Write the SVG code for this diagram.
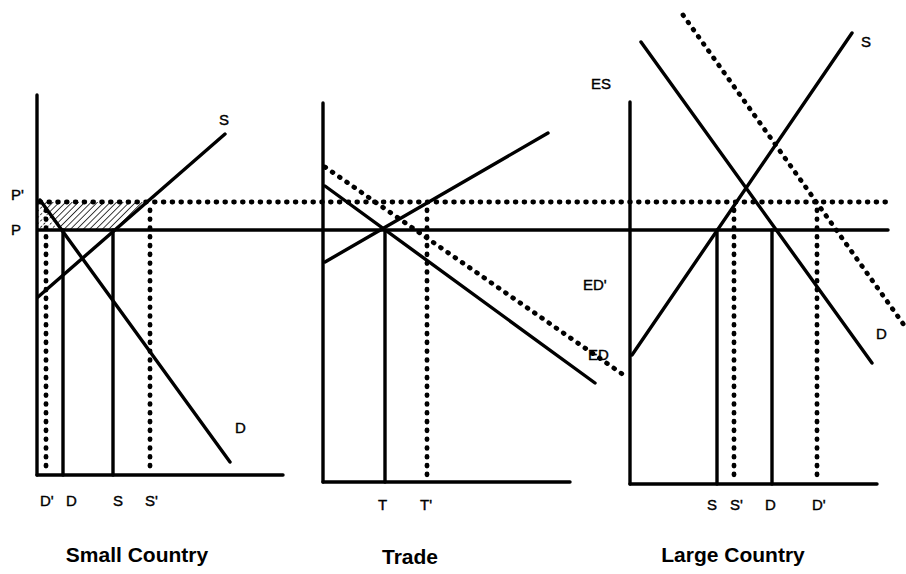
<svg xmlns="http://www.w3.org/2000/svg" width="906" height="574" viewBox="0 0 906 574">
<style>
.s{stroke:#000;stroke-width:3.4;fill:none;stroke-linecap:round}
.d{stroke:#000;stroke-width:4.8;fill:none;stroke-linecap:round;stroke-dasharray:0.8 8}
.t{font-family:"Liberation Sans",Arial,sans-serif;font-size:15px;fill:#000;stroke:#000;stroke-width:0.4}
.h{font-family:"Liberation Sans",Arial,sans-serif;font-size:21px;font-weight:bold;fill:#000}
</style>
<defs>
<pattern id="hatch" patternUnits="userSpaceOnUse" width="4.5" height="4.5" patternTransform="rotate(45)">
<line x1="0" y1="0" x2="0" y2="4.5" stroke="#000" stroke-width="1.5"/>
</pattern>
<pattern id="hatch2" patternUnits="userSpaceOnUse" width="4.5" height="4.5" patternTransform="rotate(45)">
<line x1="0" y1="0" x2="0" y2="4.5" stroke="#000" stroke-width="1.5" stroke-dasharray="2 2"/>
</pattern>
</defs>
<rect width="906" height="574" fill="#fff"/>
<g id="shading">
<polygon points="42,202 147,202 115,230 62,230" fill="url(#hatch)"/>
<polygon points="38,202 42,202 62,230 38,230" fill="url(#hatch2)"/>
</g>
<g id="connectors">
<line class="d" x1="40" y1="202" x2="890" y2="202"/>
<line class="s" x1="38" y1="230" x2="888" y2="230"/>
<line class="s" x1="37" y1="95" x2="37" y2="475"/>
<line class="s" x1="37" y1="475" x2="283" y2="475"/>
<line class="s" x1="38" y1="297" x2="225" y2="134"/>
<line class="s" x1="40" y1="200" x2="230" y2="462"/>
<line class="s" x1="63" y1="230" x2="63" y2="475"/>
<line class="s" x1="113" y1="230" x2="113" y2="475"/>
<line class="d" x1="46" y1="210" x2="46" y2="470"/>
<line class="d" x1="150" y1="210" x2="150" y2="470"/>
<line class="s" x1="323" y1="103" x2="323" y2="482"/>
<line class="s" x1="323" y1="482" x2="570" y2="482"/>
<line class="s" x1="325" y1="262" x2="548" y2="133"/>
<line class="s" x1="325" y1="186" x2="595" y2="383"/>
<line class="d" x1="325" y1="167" x2="628" y2="378"/>
<line class="s" x1="385" y1="230" x2="385" y2="482"/>
<line class="d" x1="427" y1="210" x2="427" y2="478"/>
<line class="s" x1="630" y1="102" x2="630" y2="484"/>
<line class="s" x1="630" y1="484" x2="877" y2="484"/>
<line class="s" x1="632" y1="355" x2="852" y2="33"/>
<line class="s" x1="641" y1="42" x2="872" y2="363"/>
<line class="d" x1="683" y1="15" x2="904" y2="325"/>
<line class="s" x1="717" y1="230" x2="717" y2="484"/>
<line class="s" x1="772" y1="230" x2="772" y2="484"/>
<line class="d" x1="734" y1="210" x2="734" y2="480"/>
<line class="d" x1="817" y1="210" x2="817" y2="480"/>
</g>
<g id="labels-small">
<text class="t" x="11" y="200">P'</text>
<text class="t" x="11" y="235">P</text>
<text class="t" x="219" y="125">S</text>
<text class="t" x="235" y="433">D</text>
<text class="t" x="40" y="506">D'</text>
<text class="t" x="66" y="506">D</text>
<text class="t" x="113" y="506">S</text>
<text class="t" x="145" y="506">S'</text>
<text class="h" x="137" y="562" text-anchor="middle">Small Country</text>
</g>
<g id="labels-trade">
<text class="t" x="378" y="510">T</text>
<text class="t" x="420" y="510">T'</text>
<text class="h" x="410" y="564" text-anchor="middle">Trade</text>
</g>
<g id="labels-large">
<text class="t" x="591" y="89">ES</text>
<text class="t" x="583" y="290">ED'</text>
<text class="t" x="588" y="360">ED</text>
<text class="t" x="861" y="47">S</text>
<text class="t" x="876" y="339">D</text>
<text class="t" x="707" y="510">S</text>
<text class="t" x="730" y="510">S'</text>
<text class="t" x="765" y="510">D</text>
<text class="t" x="812" y="510">D'</text>
<text class="h" x="733" y="562" text-anchor="middle">Large Country</text>
</g>
</svg>
